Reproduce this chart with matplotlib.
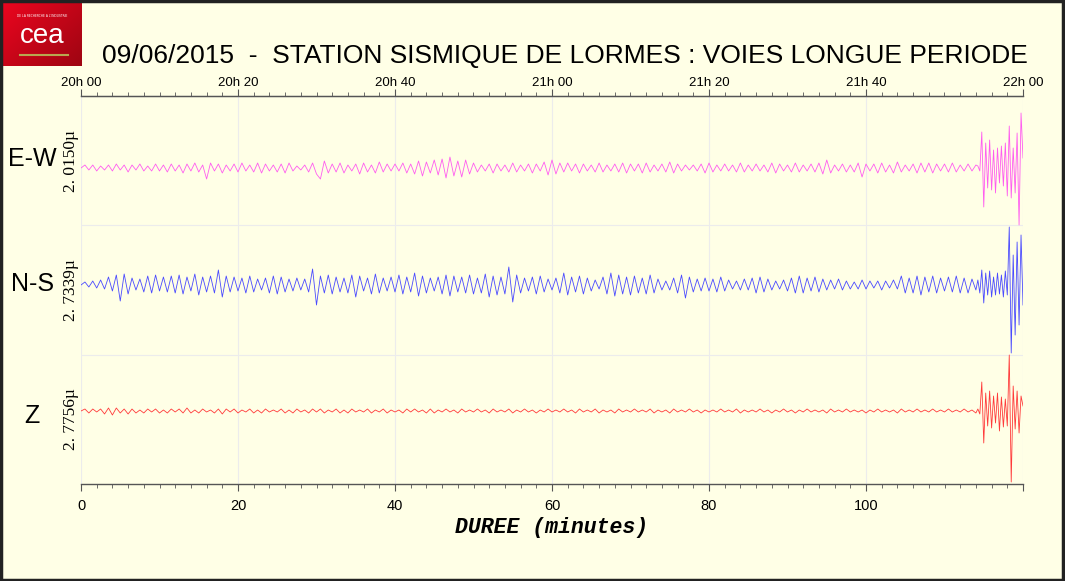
import numpy as np
import matplotlib
matplotlib.use("Agg")
import matplotlib.pyplot as plt
from matplotlib.patches import Rectangle

# ---- data (trace deviations in pixel units) ----
channels = ["E-W", "N-S", "Z"]
scale_labels = ["2. 0150\u00b5", "2. 7339\u00b5", "2. 7756\u00b5"]
colors = ["#ff5cf0", "#4a4aff", "#ff3a3a"]

top_labels = ["20h 00", "20h 20", "20h 40", "21h 00", "21h 20", "21h 40", "22h 00"]
bottom_labels = ["0", "20", "40", "60", "80", "100", ""]
tick_minutes = [0, 20, 40, 60, 80, 100, 120]

# samples every 0.5 min from 0 to 114 min
ew_main = [0, 3, -2, 3, -3, 2, -2, 3, -3, 4, -2, 3, -4, 3, -2, 4, -3, 2, -3, 4, -3,
           3, -4, 4, -3, 3, -5, 4, -3, 5, -4, 3, -11, 5, -3, 4, -5, 3, -3, 4, -4,
           5, -3, 3, -4, 5, -5, 4, -3, 3, -4, 4, -5, 5, -3, 2, -2, 3, -4, 5, -6,
           -11, 7, -5, 4, -4, 5, -5, 3, -3, 4, -6, 5, -4, 3, -5, 6, -4, 4, -3, 4,
           -3, 5, -5, 4, -6, 7, -8, 6, -5, 8, -7, 9, -10, 11, -8, 7, -9, 8, -6, 5,
           -4, 3, -3, 4, -5, 4, -3, 3, -4, 5, -4, 3, -3, 4, -5, 4, -3, 6, -7, 8,
           -6, 5, -4, 5, -3, 4, -5, 4, -3, 3, -4, 5, -4, 3, -3, 4, -4, 5, -5, 4,
           -3, 4, -5, 5, -4, 3, -3, 4, -4, 6, -5, 4, -3, 3, -2, 3, -3, 4, -5, 5,
           -4, 3, -3, 4, -3, 3, -4, 5, -4, 3, -3, 4, -3, 3, -4, 5, -5, 4, -3, 3,
           -4, 5, -4, 3, -3, 4, -4, 5, -6, 8, -5, 3, -3, 4, -4, 3, -4, 5, -9, 4,
           -3, 4, -5, 5, -4, 3, -5, 6, -4, 3, -3, 4, -5, 5, -4, 5, -5, 4, -3, 4,
           -4, 5, -4, 3, -3, 4, -3, 3]
ns_main = [0, 3, -2, 4, -3, 5, -4, 8, -6, 10, -16, 11, -9, 7, -5, 6, -7, 9, -8, 10, -6,
           8, -7, 9, -8, 10, -9, 8, -6, 11, -10, 8, -7, 9, -8, 15, -12, 9, -7, 8, -6,
           7, -8, 9, -7, 6, -5, 7, -8, 9, -9, 8, -7, 6, -6, 7, -5, 6, -7, 16, -20,
           9, -8, 10, -9, 8, -7, 7, -8, 10, -12, 9, -6, 7, -9, 11, -8, 7, -6, 8, -7,
           10, -9, 8, -7, 12, -11, 9, -8, 7, -6, 8, -9, 10, -11, 9, -7, 8, -8, 10, -9,
           7, -8, 11, -12, 9, -10, 8, -9, 18, -17, 10, -8, 7, -6, 8, -9, 9, -7, 6, -5,
           7, -8, 12, -10, 8, -7, 9, -9, 7, -6, 5, -4, 8, -9, 12, -11, 10, -9, 8, -10,
           9, -8, 7, -9, 10, -8, 6, -5, 4, -5, 7, -8, 10, -13, 8, -7, 6, -6, 7, -6,
           6, -7, 8, -6, 5, -4, 4, -5, 6, -5, 7, -8, 8, -7, 6, -5, 4, -4, 5, -6,
           7, -8, 9, -8, 7, -6, 8, -7, 6, -5, 5, -4, 6, -5, 4, -4, 3, -4, 5, -4,
           4, -3, 4, -5, 4, -3, 5, -4, 9, -8, 7, -8, 9, -10, 8, -7, 9, -8, 7, -6,
           8, -7, 9, -8, 7, -8, 6, -5]
z_main = [0, 2, -2, 2, -1, 2, -3, 3, -4, 3, -2, 2, -3, 2, -2, 1, -2, 2, -1, 2, -2,
          1, -2, 2, -1, 2, -2, 3, -2, 1, -2, 2, -1, 1, -2, 2, -3, 2, -1, 2, -2,
          1, -1, 2, -2, 1, -2, 2, -1, 1, -1, 2, -2, 1, -2, 2, -1, 1, -2, 2, -1,
          2, -2, 1, -1, 2, -2, 1, -2, 2, -1, 1, -1, 2, -2, 1, -1, 2, -2, 1, -1,
          1, -2, 2, -1, 2, -1, 1, -2, 2, -2, 1, -1, 2, -1, 1, -2, 2, -1, 1, -1,
          2, -1, 1, -2, 2, -1, 1, -1, 2, -2, 1, -1, 2, -1, 1, -2, 1, -1, 2, -1,
          1, -1, 2, -1, 1, -2, 2, -1, 1, -1, 2, -2, 1, -1, 1, -2, 2, -1, 1, -1,
          2, -1, 1, -1, 2, -2, 1, -1, 1, -2, 2, -1, 1, -1, 2, -1, 1, -2, 1, -1,
          1, -1, 2, -1, 1, -1, 2, -2, 1, -1, 1, -1, 2, -1, 1, -2, 1, -1, 2, -1,
          1, -2, 1, -1, 2, -1, 1, -1, 1, -2, 2, -1, 1, -1, 2, -1, 1, -1, 1, -2,
          1, -1, 2, -1, 1, -1, 1, -2, 2, -1, 1, -1, 2, -1, 1, -1, 2, -1, 1, -1,
          2, -1, 1, -1, 2, -1, 1, -2]

# the event at the end, samples every 0.25 min from 114.25 to 120 min
ew_burst = [2, -3, 36, -39, 25, -20, 28, -22, 18, -25, 20, -15,
            22, -18, 25, -28, 42, -30, 20, -25, 35, -57, 55, 10]
ns_burst = [5, -8, 15, -18, 12, -10, 14, -12, 8, -10, 12, -9,
            10, -12, 14, -10, 58, -68, 30, -50, 43, -40, 50, -20]
z_burst = [2, -3, 29, -32, 18, -15, 20, -17, 15, -12, 18, -20,
           14, -16, 12, -15, 56, -71, 25, -18, 20, -22, 15, 5]

t_main = np.arange(len(ew_main)) * 0.5
t_burst = 114.25 + np.arange(len(ew_burst)) * 0.25
t = np.concatenate([t_main, t_burst])

traces = [ew_main + ew_burst, ns_main + ns_burst, z_main + z_burst]
baselines = [316, 199, 73]      # trace zero lines, pixels above the bottom axis
band_edges = [129, 259]

bg = "#ffffe6"
W, H = 1065, 581

fig = plt.figure(figsize=(W / 100, H / 100), dpi=100, facecolor=bg)
ax = fig.add_axes([81 / W, (H - 484) / H, (1023 - 81) / W, (484 - 96) / H])
ax.set_facecolor(bg)
ax.set_xlim(0, 120)
ax.set_ylim(0, 388)

for x in tick_minutes:
    ax.axvline(x, color="#ececec", lw=0.8, zorder=0)
for y in band_edges:
    ax.axhline(y, color="#ececec", lw=0.8, zorder=0)

for vals, base, col in zip(traces, baselines, colors):
    ax.plot(t, base + np.array(vals), color=col, lw=0.6)

# channel names and scale labels
band_centers = [323.5, 194, 64.5]
name_y = [325, 200, 68]
for name, lab, ny, mid in zip(channels, scale_labels, name_y, band_centers):
    ax.text(-6.2, ny, name, fontsize=18, ha="center", va="center",
            family="Liberation Sans", clip_on=False)
    ax.text(-1.3, mid, lab, fontsize=12.5, rotation=90, ha="center", va="center",
            family="Liberation Serif", clip_on=False)

for s in ["left", "right"]:
    ax.spines[s].set_visible(False)
for s in ["top", "bottom"]:
    ax.spines[s].set_color("#555555")
    ax.spines[s].set_linewidth(1.0)

ax.set_yticks([])
ax.set_xticks(tick_minutes)
ax.set_xticklabels(bottom_labels, fontsize=10.5, family="Liberation Sans")
ax.set_xticks(np.arange(0, 121, 2), minor=True)
ax.tick_params(axis="x", which="major", length=5, color="#555555", pad=6)
ax.tick_params(axis="x", which="minor", length=3, color="#555555")

top = ax.secondary_xaxis("top")
top.set_xticks(tick_minutes)
top.set_xticklabels(top_labels, fontsize=9.5, family="Liberation Sans")
top.set_xticks(np.arange(0, 121, 2), minor=True)
top.tick_params(axis="x", which="major", length=5, color="#555555", pad=0)
top.tick_params(axis="x", which="minor", length=3, color="#555555")
top.spines["top"].set_color("#555555")

ax.set_xlabel("DUREE (minutes)", fontsize=15.5, family="Liberation Mono",
              fontweight="bold", style="italic", labelpad=3)

fig.text(565 / W, 1 - 56 / H,
         "09/06/2015  -  STATION SISMIQUE DE LORMES : VOIES LONGUE PERIODE",
         fontsize=19, ha="center", va="center", family="Liberation Sans")

# logo block
lax = fig.add_axes([3 / W, 1 - 66 / H, 79 / W, 63 / H])
gx, gy = np.meshgrid(np.linspace(0, 1, 80), np.linspace(0, 1, 64))
grad = np.clip(0.55 * gx + 0.45 * gy, 0, 1)
red = np.dstack([0.92 - 0.3 * grad, 0.02 + 0.0 * grad, 0.12 - 0.05 * grad])
lax.imshow(red, extent=[0, 1, 0, 1], aspect="auto", origin="upper")
lax.text(0.5, 0.47, "cea", color="white", fontsize=20, ha="center", va="center",
         family="Liberation Sans")
lax.plot([0.22, 0.82], [0.18, 0.18], color="#b8a850", lw=1.5)
lax.text(0.5, 0.8, "DE LA RECHERCHE A L'INDUSTRIE", color="white", fontsize=2.2,
         ha="center", va="center")
lax.set_xlim(0, 1)
lax.set_ylim(0, 1)
lax.axis("off")

fig.patches.append(Rectangle((0.001, 0.002), 0.997, 0.996, transform=fig.transFigure,
                             fill=False, edgecolor="#222222", lw=2.5))

fig.savefig("out.png", dpi=100, facecolor=bg)
